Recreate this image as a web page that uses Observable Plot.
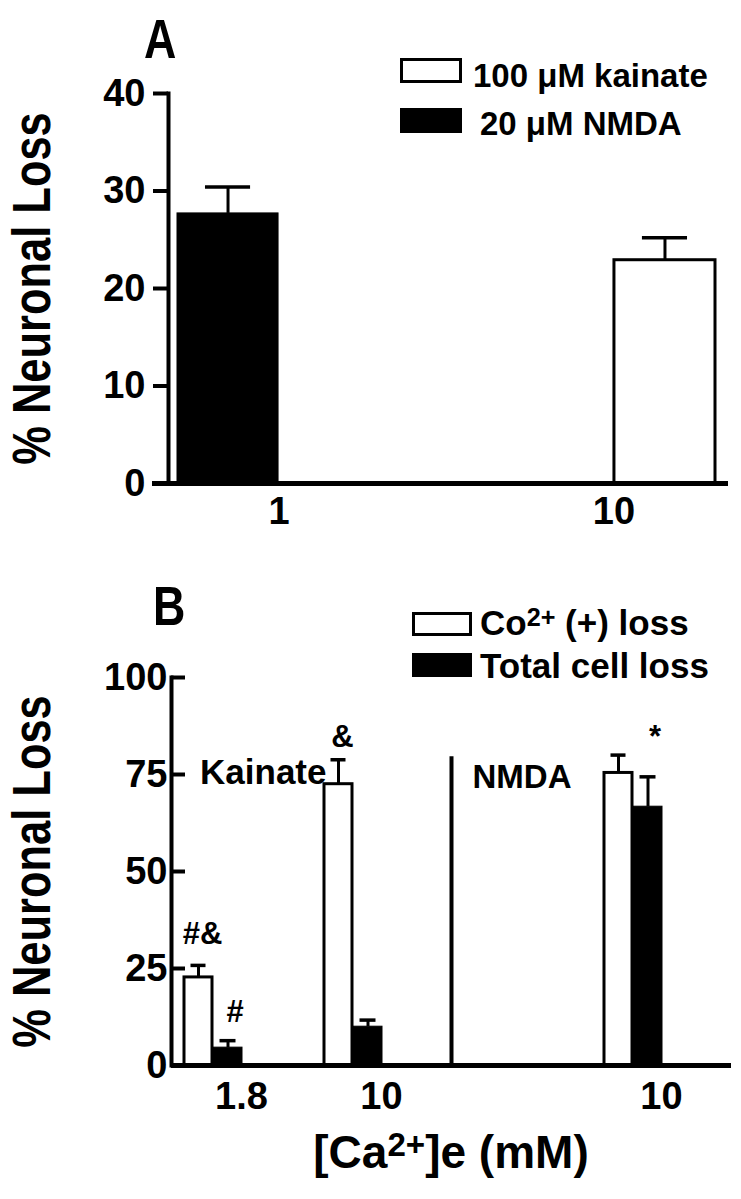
<!DOCTYPE html>
<html><head><meta charset="utf-8">
<script src="https://cdn.jsdelivr.net/npm/d3@7"></script>
<script src="https://cdn.jsdelivr.net/npm/@observablehq/plot@0.6"></script>
<style>
html,body{margin:0;padding:0;background:#fff;}
#wrap{position:relative;width:741px;height:1199px;overflow:hidden;font-family:"Liberation Sans",Arial,Helvetica,sans-serif;font-weight:bold;color:#000;}
#wrap svg{position:absolute;left:0;}
.ov{position:absolute;white-space:nowrap;line-height:1;}
.box{position:absolute;box-sizing:border-box;border:3px solid #000;background:#fff;}
.box.fill{background:#000;}
sup{font-size:0.72em;vertical-align:baseline;position:relative;top:-0.35em;line-height:0;}
</style></head>
<body><div id="wrap"></div>
<script>
// ---------- Panel A data ----------
const concA = ["1", "10"];
const nmdaA = [27.7, null];      // 20 µM NMDA, % neuronal loss
const nmdaSemA = [2.7, null];
const kainA = [null, 22.9];      // 100 µM kainate
const kainSemA = [null, 2.3];
const yTicksA = [0, 10, 20, 30, 40];

// ---------- Panel B data ----------
const groupsB = ["K1.8", "K10", "gap", "N10"];
const groupLabelsB = ["1.8", "10", "", "10"];
const coLossB = [22.7, 72.5, null, 75.4];     // Co2+ (+) loss
const coSemB = [3.1, 6.3, null, 4.6];
const totalLossB = [4.6, 10.0, null, 66.7];   // Total cell loss
const totalSemB = [1.8, 1.7, null, 7.7];
const yTicksB = [0, 25, 50, 75, 100];
const annotTextB = ["#&", "#", "&", "*"];
const annotGroupB = ["K1.8", "K1.8", "K10", "N10"];
const annotSeriesB = ["co", "total", "co", "total"];
const annotYB = [31.4, 11.1, 82.2, 82.2];
const dividerTopB = 79.6;
const regionTextB = ["Kainate", "NMDA"];
const regionYB = [72.6, 71.6];

const W = 741;
const FONT = '"Liberation Sans", Arial, Helvetica, sans-serif';

function rows(groups, vals, sems) {
  return groups.map((g, i) => ({group: g, value: vals[i], top: vals[i] == null ? null : vals[i] + sems[i]}))
    .filter(d => d.value != null);
}

function seriesMarks(data, slot, bw, st) {
  const [lo, hi] = slot;
  const c = (lo + hi) / 2;
  return [
    Plot.ruleX(data, {x: "group", y1: "value", y2: "top", dx: c - bw / 2, strokeWidth: st.whisker, stroke: "black"}),
    Plot.tickY(data, {x: "group", y: "top", insetLeft: c - st.cap / 2, insetRight: bw - c - st.cap / 2, strokeWidth: st.capWidth, stroke: "black"}),
    Plot.barY(data, {x: "group", y: "value", insetLeft: lo, insetRight: bw - hi, fill: st.fill, stroke: "black", strokeWidth: st.stroke})
  ];
}

// ---------- Panel A ----------
const mA = {left: 168, right: 13, top: 93, bottom: 77};
const HA = 560;
const bandA = {paddingInner: 0.393, paddingOuter: 0.03, align: 0.4};
const bwA = d3.scaleBand().domain(concA).range([mA.left, W - mA.right])
  .paddingInner(bandA.paddingInner).paddingOuter(bandA.paddingOuter).align(bandA.align).bandwidth();
const nmdaRowsA = rows(concA, nmdaA, nmdaSemA);
const kainRowsA = rows(concA, kainA, kainSemA);

const plotA = Plot.plot({
  width: W, height: HA,
  marginLeft: mA.left, marginRight: mA.right, marginTop: mA.top, marginBottom: mA.bottom,
  style: {fontFamily: FONT, fontWeight: "bold", color: "black", background: "white"},
  x: {type: "band", domain: concA, ...bandA},
  y: {domain: [0, 40]},
  marks: [
    ...seriesMarks(nmdaRowsA, [0, bwA / 2], bwA, {whisker: 3, cap: 46, capWidth: 3.5, fill: "black", stroke: 1}),
    ...seriesMarks(kainRowsA, [bwA / 2, bwA], bwA, {whisker: 3, cap: 46, capWidth: 3.5, fill: "white", stroke: 3}),
    Plot.ruleY([0], {strokeWidth: 5, insetLeft: -16}),
    Plot.frame({anchor: "left", strokeWidth: 4}),
    Plot.axisY({ticks: yTicksA, tickSize: 15, tickPadding: 8, fontSize: 38, strokeWidth: 4, label: null}),
    Plot.axisX({tickSize: 0, tickPadding: 14, fontSize: 38, label: null}),
    Plot.text(["% Neuronal Loss"], {frameAnchor: "left", textAnchor: "middle", rotate: -90, dx: -135, fontSize: 53, fontWeight: "bold"})
  ]
});
plotA.style.top = "0px";

// ---------- Panel B ----------
const mB = {left: 171, right: 10, top: 117, bottom: 134};
const HB = 639;
const bwB = d3.scaleBand().domain(groupsB).range([mB.left, W - mB.right]).bandwidth();
const coRowsB = rows(groupsB, coLossB, coSemB);
const totRowsB = rows(groupsB, totalLossB, totalSemB);
const slotB = {co: [13, 41], total: [42, 71]};
const annotRowsB = annotTextB.map((t, i) => ({text: t, group: annotGroupB[i], series: annotSeriesB[i], y: annotYB[i]}));
const labelOf = new Map(groupsB.map((g, i) => [g, groupLabelsB[i]]));

const plotB = Plot.plot({
  width: W, height: HB,
  marginLeft: mB.left, marginRight: mB.right, marginTop: mB.top, marginBottom: mB.bottom,
  style: {fontFamily: FONT, fontWeight: "bold", color: "black", background: "white"},
  x: {type: "band", domain: groupsB, padding: 0},
  y: {domain: [0, 100]},
  marks: [
    ...seriesMarks(coRowsB, slotB.co, bwB, {whisker: 3, cap: 15, capWidth: 3.5, fill: "white", stroke: 3}),
    ...seriesMarks(totRowsB, slotB.total, bwB, {whisker: 3, cap: 16, capWidth: 3.5, fill: "black", stroke: 1}),
    Plot.ruleX(["K10"], {x: d => d, y1: 0, y2: dividerTopB, dx: bwB / 2, strokeWidth: 4}),
    Plot.text(annotRowsB.filter(d => d.series === "co"), {x: "group", y: "y", text: "text", dx: -39, lineAnchor: "bottom", fontSize: 31, fontWeight: "bold"}),
    Plot.text(annotRowsB.filter(d => d.series === "total"), {x: "group", y: "y", text: "text", dx: -6.5, lineAnchor: "bottom", fontSize: 31, fontWeight: "bold"}),
    Plot.text([regionTextB[0]], {x: () => "K10", y: () => regionYB[0], textAnchor: "end", dx: -55, lineAnchor: "bottom", fontSize: 35, fontWeight: "bold"}),
    Plot.text([regionTextB[1]], {x: () => "gap", y: () => regionYB[1], textAnchor: "start", dx: -49, lineAnchor: "bottom", fontSize: 33, fontWeight: "bold"}),
    Plot.ruleY([0], {strokeWidth: 5}),
    Plot.frame({anchor: "left", strokeWidth: 4}),
    Plot.axisY({ticks: yTicksB, tickSize: -14, tickPadding: 18, fontSize: 38, strokeWidth: 4, label: null}),
    Plot.axisX({tickSize: 0, tickPadding: 17, fontSize: 38, label: null, tickFormat: d => labelOf.get(d)}),
    Plot.text(["% Neuronal Loss"], {frameAnchor: "left", textAnchor: "middle", rotate: -90, dx: -138, fontSize: 53, fontWeight: "bold"})
  ]
});
plotB.style.top = "560px";

const wrap = document.getElementById("wrap");
wrap.appendChild(plotA);
wrap.appendChild(plotB);

// condense the rotated axis titles (the original uses a condensed face)
for (const svg of [plotA, plotB]) {
  d3.select(svg).selectAll("text").filter(function() { return this.textContent === "% Neuronal Loss"; })
    .each(function() {
      const t = this.getAttribute("transform") || "";
      this.setAttribute("transform", t + " scale(0.82,1)");
    });
}

// ---------- overlays: panel letters, legends, x title ----------
function ov(html, left, top, size, extra = "") {
  const d = document.createElement("div");
  d.className = "ov";
  d.innerHTML = html;
  d.style.cssText += `left:${left}px;top:${top}px;font-size:${size}px;${extra}`;
  wrap.appendChild(d);
  return d;
}
function box(left, top, w, h, fill) {
  const d = document.createElement("div");
  d.className = "box" + (fill ? " fill" : "");
  d.style.cssText += `left:${left}px;top:${top}px;width:${w}px;height:${h}px;`;
  wrap.appendChild(d);
}
const legendA = ["100 \u03bcM kainate", "20 \u03bcM NMDA"];
const legendB = ["Co<sup>2+</sup> (+) loss", "Total cell loss"];

ov("A", 144, 11, 56, "transform:scaleX(0.8);transform-origin:0 0;");
ov("B", 153, 578, 56, "transform:scaleX(0.8);transform-origin:0 0;");
box(400, 58, 62, 25, false);
ov(legendA[0], 473, 59, 33);
box(400, 108, 62, 25, true);
ov(legendA[1], 480, 107, 33);
box(412, 612, 60, 24, false);
ov(legendB[0], 480, 605, 35);
box(412, 653, 60, 24, true);
ov(legendB[1], 480, 648, 35);
ov("[Ca<sup>2+</sup>]e (mM)", 451, 1129, 46, "transform:translateX(-50%);");
</script>
</body></html>
